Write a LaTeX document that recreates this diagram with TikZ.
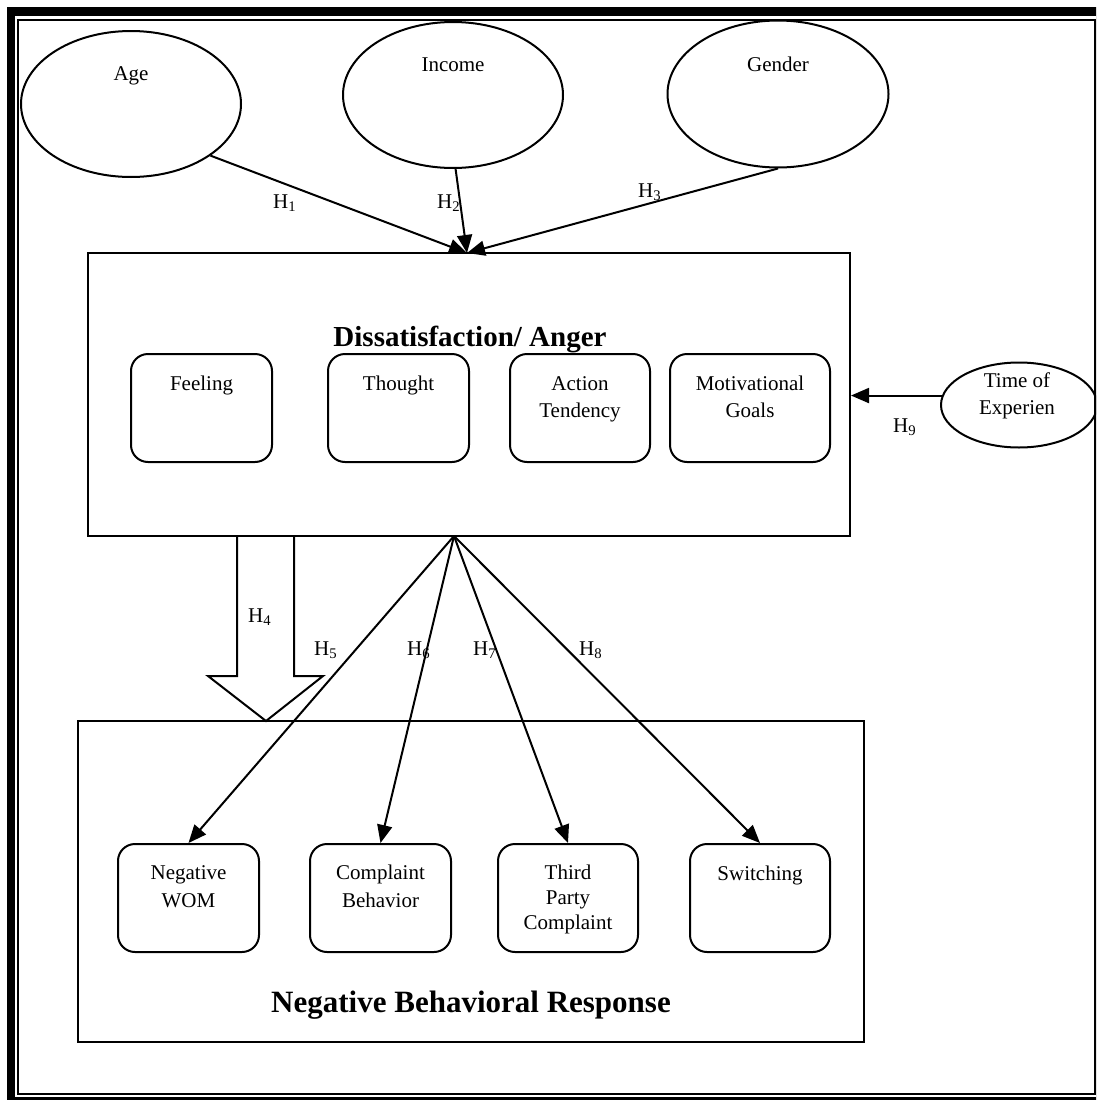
\documentclass[tikz,border=0pt]{standalone}
\usepackage{fontspec}
\setmainfont{Liberation Serif}
\usetikzlibrary{shapes.geometric,arrows.meta,calc}
\begin{document}
\begin{tikzpicture}[x=1pt,y=-1pt,
  ell/.style={draw, ellipse, line width=2pt, inner sep=0pt},
  rbox/.style={draw, rounded corners=17pt, line width=2pt, minimum height=108pt, inner sep=0pt},
  bigbox/.style={draw, line width=2pt, inner sep=0pt},
  txt/.style={font=\fontsize{21}{26}\selectfont, inner sep=0pt, anchor=base},
  hlab/.style={font=\fontsize{21}{26}\selectfont, inner sep=0pt, anchor=base west},
  ttl/.style={font=\bfseries\fontsize{29}{34}\selectfont, inner sep=0pt, anchor=base},
  arr/.style={line width=2pt, -{Triangle[length=18pt,width=15pt]}}]
\path[use as bounding box] (0,0) rectangle (1096,1100);
\clip (0,0) rectangle (1096,1100);
\fill[white] (0,0) rectangle (1096,1100);
% frame
\fill[black] (7,7) rectangle (1200,1200);
\fill[white] (15,16) rectangle (1200,1097);
\draw[line width=2pt] (18,20) rectangle (1095,1093.5);

% top ellipses
\node[ell, minimum width=220pt, minimum height=146pt] (age) at (131,104) {};
\node[ell, minimum width=220pt, minimum height=146pt] (income) at (453,95) {};
\node[ell, minimum width=221pt, minimum height=147pt] (gender) at (778,94) {};
\node[ell, minimum width=156pt, minimum height=85pt] (time) at (1019,405) {};
\node[txt] (agetxt) at (131,80) {Age};
\node[txt] (inctxt) at (453,71) {Income};
\node[txt] (gentxt) at (778,71) {Gender};
\node[txt] (timetxt1) at (1017,387) {Time of};
\node[txt] (timetxt2) at (1017,414) {Experien};

% dissatisfaction box
\node[bigbox, minimum width=762pt, minimum height=283pt] (dis) at (469,394.5) {};
\node[ttl] (distitle) at (470,346) {Dissatisfaction/ Anger};
\node[rbox, minimum width=141pt] (feel) at (201.5,408) {};
\node[rbox, minimum width=141pt] (thought) at (398.5,408) {};
\node[rbox, minimum width=140pt] (action) at (580,408) {};
\node[rbox, minimum width=160pt] (motiv) at (750,408) {};
\node[txt] (feeltxt) at (201.5,390) {Feeling};
\node[txt] (thoughttxt) at (398.5,390) {Thought};
\node[txt] (acttxt1) at (580,390) {Action};
\node[txt] (acttxt2) at (580,417) {Tendency};
\node[txt] (mottxt1) at (750,390) {Motivational};
\node[txt] (mottxt2) at (750,417) {Goals};

% lower box
\node[bigbox, minimum width=786pt, minimum height=321pt] (neg) at (471,881.5) {};
\node[ttl, font=\bfseries\fontsize{31}{36}\selectfont] (negtitle) at (471,1012) {Negative Behavioral Response};
\node[rbox, minimum width=141pt] (nwom) at (188.5,898) {};
\node[rbox, minimum width=141pt] (compl) at (380.5,898) {};
\node[rbox, minimum width=140pt] (third) at (568,898) {};
\node[rbox, minimum width=140pt] (switch) at (760,898) {};
\node[txt] (nwomtxt1) at (188.5,879) {Negative};
\node[txt] (nwomtxt2) at (188.5,907) {WOM};
\node[txt] (compltxt1) at (380.5,879) {Complaint};
\node[txt] (compltxt2) at (380.5,907) {Behavior};
\node[txt] (thirdtxt1) at (568,879) {Third};
\node[txt] (thirdtxt2) at (568,904) {Party};
\node[txt] (thirdtxt3) at (568,929) {Complaint};
\node[txt] (switchtxt) at (760,880) {Switching};

% connectors to top box
\coordinate (dtop) at (467,253);
\draw[arr] (age.-33) -- (dtop);
\draw[arr] (income.-88) -- (dtop);
\draw[arr] (gender.-90) -- (dtop);
\draw[arr] (time.173) -- (time.173 -| dis.east);

% connectors to lower boxes
\coordinate (dbot) at (454,536);
\draw[arr] (dbot) -- (nwom.north);
\draw[arr] (dbot) -- (compl.north);
\draw[arr] (dbot) -- (third.north);
\draw[arr] (dbot) -- (switch.north);

% hollow block arrow H4
\coordinate (h4tip) at (266,721);
\draw[line width=2pt, line join=miter] ($(h4tip)+(-29,-185)$) -- ++(0,140) -- ++(-29,0) -- (h4tip) -- ++(57,-45) -- ++(-29,0) -- ++(0,-140);

% labels
\node[hlab] (h1) at (273,208) {H\textsubscript{1}};
\node[hlab] (h2) at (437,208) {H\textsubscript{2}};
\node[hlab] (h3) at (638,197) {H\textsubscript{3}};
\node[hlab] (h4) at (248,622) {H\textsubscript{4}};
\node[hlab] (h5) at (314,655) {H\textsubscript{5}};
\node[hlab] (h6) at (407,655) {H\textsubscript{6}};
\node[hlab] (h7) at (473,655) {H\textsubscript{7}};
\node[hlab] (h8) at (579,655) {H\textsubscript{8}};
\node[hlab] (h9) at (893,432) {H\textsubscript{9}};
\end{tikzpicture}
\end{document}
